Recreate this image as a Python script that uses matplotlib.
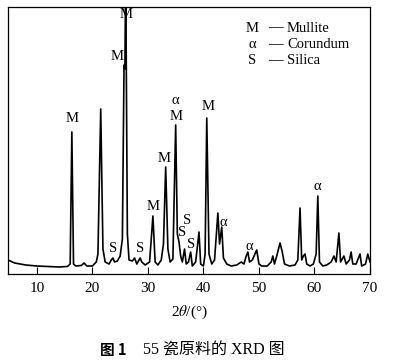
import matplotlib
matplotlib.use("Agg")
import matplotlib.pyplot as plt

# XRD pattern: 2theta (deg) and intensity (arbitrary units)
two_theta = [4.8, 6.0, 8.0, 10.0, 12.0, 14.0, 15.5, 16.0, 16.3, 16.6, 17.0, 18.0, 18.5, 19.0,
             20.0, 20.7, 21.0, 21.5, 21.9, 22.3, 23.0, 23.4, 23.7, 24.0, 24.5, 25.0, 25.4,
             25.7, 25.85, 26.0, 26.3, 26.6, 27.2, 27.6, 28.0, 28.4, 28.6, 28.9, 29.5, 30.3,
             30.9, 31.3, 31.8, 32.4, 32.8, 33.2, 33.6, 34.0, 34.5, 35.0, 35.3, 35.6, 35.9,
             36.2, 36.6, 36.9, 37.3, 37.7, 38.0, 38.6, 39.2, 39.5, 40.0, 40.3, 40.6, 41.0,
             41.5, 42.0, 42.6, 42.9, 43.3, 43.6, 44.2, 45.0, 46.0, 46.8, 47.3, 47.7, 48.0,
             48.3, 48.8, 49.6, 50.0, 50.5, 51.5, 52.2, 52.5, 52.8, 53.2, 53.8, 54.2, 54.6,
             55.5, 56.5, 57.0, 57.4, 57.7, 58.0, 58.3, 58.6, 59.2, 59.8, 60.3, 60.6, 60.9,
             61.5, 62.2, 63.0, 63.5, 63.9, 64.4, 64.7, 65.3, 65.7, 66.3, 66.6, 66.9, 67.5,
             68.2, 68.5, 69.2, 69.6, 70.0]
intensity = [14, 11, 9, 8, 7.5, 7, 7.5, 10, 142, 10, 8, 8.5, 11, 8,
             8, 12, 20, 165, 25, 12, 10, 14, 16, 12, 13, 18, 35,
             209, 205, 300, 40, 14, 13, 16, 10, 14, 16, 12, 9, 12,
             58, 12, 9, 14, 30, 107, 25, 12, 15, 149, 40, 32, 18,
             12, 25, 10, 12, 22, 8, 12, 42, 10, 8, 20, 156, 20,
             10, 14, 61, 30, 47, 16, 10, 8, 9, 12, 10, 18, 22,
             12, 14, 24, 10, 8, 8, 12, 18, 10, 18, 31, 22, 10,
             8, 9, 14, 66, 14, 18, 20, 10, 8, 10, 20, 78, 12,
             8, 9, 12, 18, 12, 41, 12, 18, 10, 14, 22, 10, 10,
             20, 8, 10, 20, 12]

# phase labels: (symbol, 2theta, intensity)
peak_labels = [("M", 16.3, 156), ("M", 24.4, 217), ("M", 26.0, 260),
               ("α", 35.0, 173), ("M", 35.0, 157), ("M", 32.9, 116),
               ("M", 30.9, 67), ("M", 40.8, 167),
               ("S", 23.7, 25), ("S", 28.6, 25), ("S", 37.0, 53),
               ("S", 36.1, 42), ("S", 37.7, 29),
               ("α", 43.5, 52), ("α", 48.2, 27), ("α", 60.6, 87)]

legend_symbols = ["M", "α", "S"]
legend_names = ["Mullite", "Corundum", "Silica"]
x_ticks = [10, 20, 30, 40, 50, 60, 70]

SERIF = ["Liberation Serif", "DejaVu Serif"]
plt.rcParams["font.family"] = SERIF
plt.rcParams["mathtext.fontset"] = "stix"

fig = plt.figure(figsize=(3.93, 3.6), dpi=100)
ax = fig.add_axes([8 / 393, 1 - 274 / 360, 362 / 393, 267 / 360])

ax.plot(two_theta, intensity, color="black", linewidth=1.2)
ax.set_xlim(4.8, 70)
ax.set_ylim(0, 267)
ax.set_xticks(x_ticks)
ax.set_yticks([])
ax.tick_params(axis="x", direction="in", length=5, width=0.8,
               labelsize=11, pad=6, top=False)
for sp in ax.spines.values():
    sp.set_linewidth(0.9)

for sym, tx, ty in peak_labels:
    ax.text(tx, ty, sym, ha="center", va="center", fontsize=10.5)

for i, (sym, name) in enumerate(zip(legend_symbols, legend_names)):
    yy = 0.921 - i * 0.0615
    ax.text(0.674, yy, sym, transform=ax.transAxes, ha="center", va="center", fontsize=10.5)
    ax.text(0.739, yy, "—", transform=ax.transAxes, ha="center", va="center", fontsize=10.5)
    ax.text(0.771, yy, name, transform=ax.transAxes, ha="left", va="center", fontsize=10.5)

ax.set_xlabel("2$\\theta$/(°)", fontsize=11, labelpad=6)

fig.text(100 / 393, 1 - 350 / 360, "图 1", ha="left", va="center", fontsize=10.5,
         fontweight="bold", family=["Noto Sans CJK SC"])
fig.text(143 / 393, 1 - 350 / 360, "55 瓷原料的 XRD 图", ha="left", va="center", fontsize=11.5,
         family=SERIF + ["Noto Sans CJK SC"])

fig.savefig("out.png", dpi=100)
